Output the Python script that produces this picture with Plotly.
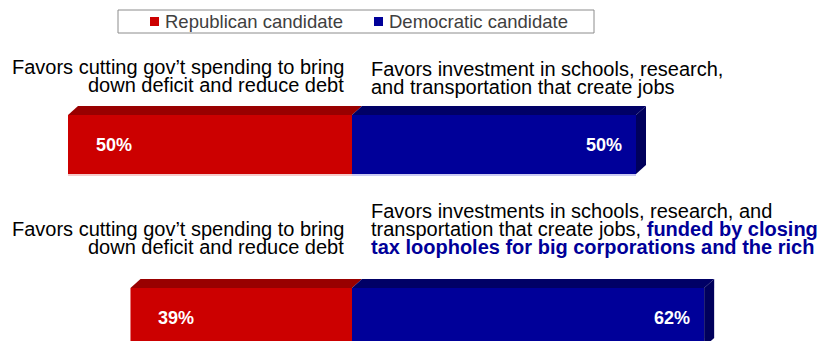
import plotly.graph_objects as go

# Survey results: share preferring each candidate's position
rows = [0, 1]
republican = [50, 39]
democratic = [50, 62]
value_labels_rep = ["50%", "39%"]
value_labels_dem = ["50%", "62%"]
series_names = ["Republican candidate", "Democratic candidate"]

left_text = [
    ["Favors cutting gov\u2019t spending to bring", "down deficit and reduce debt"],
    ["Favors cutting gov\u2019t spending to bring", "down deficit and reduce debt"],
]
right_text = [
    ["Favors investment in schools, research,", "and transportation that create jobs"],
    ["Favors investments in schools, research, and",
     "transportation that create jobs, <b><span style='color:#000099'>funded by closing</span></b>",
     "<b><span style='color:#000099'>tax loopholes for big corporations and the rich</span></b>"],
]

W, H = 820, 341
FONT = "Arial, Liberation Sans, sans-serif"

RED, RED_TOP = "#CC0000", "#990000"
BLUE, BLUE_TOP, BLUE_SIDE = "#000099", "#000066", "#00005C"

# axis geometry
PX_PER_PCT = 5.68
ZERO_PX = 352
ROW0_PX, ROW_STEP = 144.5, 173.0
BAR_PX = 59
xr = [-ZERO_PX / PX_PER_PCT, (W - ZERO_PX) / PX_PER_PCT]
yr = [(H - ROW0_PX) / ROW_STEP, -ROW0_PX / ROW_STEP]
bw = BAR_PX / ROW_STEP
dx = 10 / PX_PER_PCT   # depth offset of the 3-D faces
dy = 9 / ROW_STEP

fig = go.Figure()
fig.add_trace(go.Bar(y=rows, x=republican, base=[-v for v in republican], orientation="h",
                     width=bw, marker=dict(color=RED, line=dict(width=0)),
                     name=series_names[0], showlegend=False, hoverinfo="skip"))
fig.add_trace(go.Bar(y=rows, x=democratic, base=[0, 0], orientation="h",
                     width=bw, marker=dict(color=BLUE, line=dict(width=0)),
                     name=series_names[1], showlegend=False, hoverinfo="skip"))

shapes = []
annotations = []


def poly(pts, color):
    d = "M " + " L ".join(f"{x},{y}" for x, y in pts) + " Z"
    return dict(type="path", xref="x", yref="y", path=d, fillcolor=color,
                line=dict(width=0), layer="above")


for r, rv, dv in zip(rows, republican, democratic):
    top = r - bw / 2
    bot = r + bw / 2
    # top faces
    shapes.append(poly([(-rv, top), (-rv + dx, top - dy), (dx, top - dy), (0, top)], RED_TOP))
    shapes.append(poly([(0, top), (dx, top - dy), (dv + dx, top - dy), (dv, top)], BLUE_TOP))
    # right side face
    shapes.append(poly([(dv, top), (dv + dx, top - dy), (dv + dx, bot - dy), (dv, bot)], BLUE_SIDE))
    # faint reflection under the bar
    shapes.append(dict(type="line", xref="x", yref="y", x0=-rv, x1=0, y0=bot + 0.006, y1=bot + 0.006,
                       line=dict(color="#F2B8B8", width=1.5)))
    shapes.append(dict(type="line", xref="x", yref="y", x0=0, x1=dv, y0=bot + 0.006, y1=bot + 0.006,
                       line=dict(color="#B8B8EE", width=1.5)))

# value labels
for r, rv, dv, rl, dl in zip(rows, republican, democratic, value_labels_rep, value_labels_dem):
    annotations.append(dict(x=-rv, y=r, xref="x", yref="y", text=f"<b>{rl}</b>", showarrow=False,
                            xanchor="center", yanchor="middle", xshift=46,
                            font=dict(family=FONT, size=18, color="white")))
    annotations.append(dict(x=dv, y=r, xref="x", yref="y", text=f"<b>{dl}</b>", showarrow=False,
                            xanchor="center", yanchor="middle", xshift=-32,
                            font=dict(family=FONT, size=18, color="white")))

# statement text, one annotation per line for tight leading
LINE = 18
left_first = [67, 229]
right_first = [69, 211]
for i in range(2):
    for j, t in enumerate(left_text[i]):
        annotations.append(dict(x=346 / W, y=1 - (left_first[i] + j * LINE) / H, xref="paper", yref="paper",
                                text=t, showarrow=False, xanchor="right", yanchor="middle",
                                font=dict(family=FONT, size=20, color="black")))
    for j, t in enumerate(right_text[i]):
        annotations.append(dict(x=369 / W, y=1 - (right_first[i] + j * LINE) / H, xref="paper", yref="paper",
                                text=t, showarrow=False, xanchor="left", yanchor="middle",
                                font=dict(family=FONT, size=20, color="black")))

# legend box
shapes.append(dict(type="rect", xref="paper", yref="paper", x0=118 / W, x1=594 / W,
                   y0=1 - 33 / H, y1=1 - 10 / H, line=dict(color="#8C8C8C", width=1),
                   fillcolor="white"))
for sx, col, name in [(150, RED, series_names[0]), (374, BLUE, series_names[1])]:
    shapes.append(dict(type="rect", xref="paper", yref="paper", x0=sx / W, x1=(sx + 9) / W,
                       y0=1 - 26 / H, y1=1 - 17 / H, line=dict(width=0), fillcolor=col))
    annotations.append(dict(x=(sx + 13) / W, y=1 - 21.5 / H, xref="paper", yref="paper", text=name,
                            showarrow=False, xanchor="left", yanchor="middle",
                            font=dict(family=FONT, size=18.5, color="#404040")))

fig.update_layout(
    width=W, height=H, margin=dict(l=0, r=0, t=0, b=0),
    paper_bgcolor="white", plot_bgcolor="white",
    barmode="overlay",
    xaxis=dict(range=xr, visible=False, fixedrange=True),
    yaxis=dict(range=yr, visible=False, fixedrange=True),
    shapes=shapes, annotations=annotations,
)

fig.write_html("out.html", config={"displayModeBar": False})
